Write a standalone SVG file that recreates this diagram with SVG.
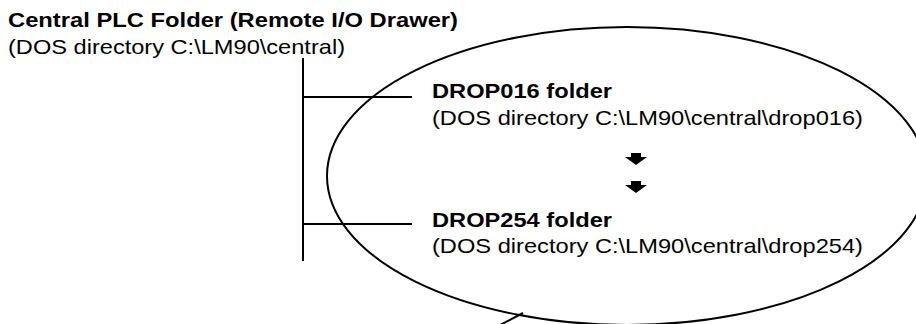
<svg xmlns="http://www.w3.org/2000/svg" width="916" height="324" viewBox="0 0 916 324">
<style>
text{font-family:"Liberation Sans",Arial,sans-serif;font-size:21px;fill:#000}
.b{font-weight:bold}
.ln{stroke:#000;stroke-width:2;fill:none}
.arr{fill:#000}
</style>
<rect width="916" height="324" fill="#fff"/>
<g id="central">
<text class="b" x="8" y="27" textLength="450" lengthAdjust="spacingAndGlyphs">Central PLC Folder (Remote I/O Drawer)</text>
<text x="8" y="54" textLength="337" lengthAdjust="spacingAndGlyphs">(DOS directory C:\LM90\central)</text>
</g>
<g id="connectors">
<line class="ln" x1="303" y1="58" x2="303" y2="261"/>
<line class="ln" x1="303" y1="97" x2="412" y2="97"/>
<line class="ln" x1="303" y1="224" x2="412" y2="224"/>
<ellipse class="ln" cx="627" cy="176" rx="300" ry="149"/>
<line class="ln" x1="500" y1="325" x2="523" y2="313"/>
<path class="arr" d="M631,153 H641 V157 H647 L636,165 L625,157 H631 Z"/>
<path class="arr" d="M631,181 H641 V185 H647 L636,193 L625,185 H631 Z"/>
</g>
<g id="drop016">
<text class="b" x="432" y="98" textLength="180" lengthAdjust="spacingAndGlyphs">DROP016 folder</text>
<text x="432" y="125" textLength="431" lengthAdjust="spacingAndGlyphs">(DOS directory C:\LM90\central\drop016)</text>
</g>
<g id="drop254">
<text class="b" x="432" y="227" textLength="180" lengthAdjust="spacingAndGlyphs">DROP254 folder</text>
<text x="432" y="253" textLength="431" lengthAdjust="spacingAndGlyphs">(DOS directory C:\LM90\central\drop254)</text>
</g>
</svg>
